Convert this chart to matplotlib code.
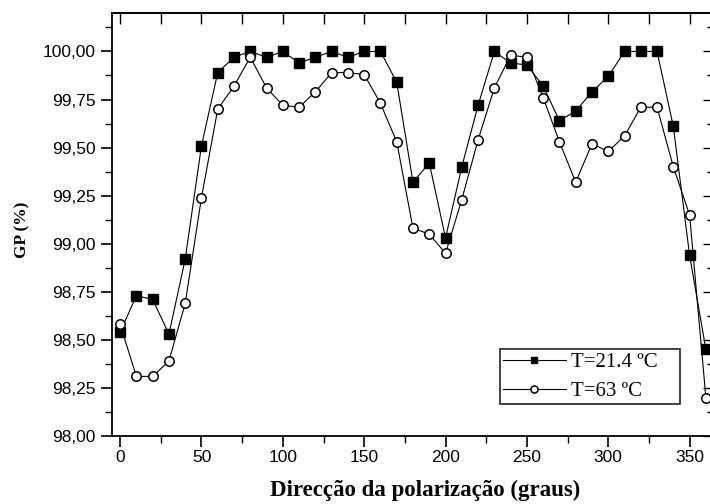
import numpy as np
import matplotlib
matplotlib.use('Agg')
import matplotlib.pyplot as plt
from matplotlib.ticker import MultipleLocator, FuncFormatter

# Dados
angulos = list(range(0, 361, 10))
gp_21 = [98.54, 98.73, 98.71, 98.53, 98.92, 99.51, 99.89, 99.97, 100.00, 99.97,
         100.00, 99.94, 99.97, 100.00, 99.97, 100.00, 100.00, 99.84, 99.32, 99.42,
         99.03, 99.40, 99.72, 100.00, 99.94, 99.93, 99.82, 99.64, 99.69, 99.79,
         99.87, 100.00, 100.00, 100.00, 99.61, 98.94, 98.45]
gp_63 = [98.58, 98.31, 98.31, 98.39, 98.69, 99.24, 99.70, 99.82, 99.97, 99.81,
         99.72, 99.71, 99.79, 99.89, 99.89, 99.88, 99.73, 99.53, 99.08, 99.05,
         98.95, 99.23, 99.54, 99.81, 99.98, 99.97, 99.76, 99.53, 99.32, 99.52,
         99.48, 99.56, 99.71, 99.71, 99.40, 99.15, 98.20]
rotulos = ['T=21.4 ºC', 'T=63 ºC']

fig = plt.figure(figsize=(7.1, 5.04), dpi=100)
ax = fig.add_axes([112/710, 1 - 436/504, 602/710, 423/504])

ax.plot(angulos, gp_21, color='black', lw=0.8, marker='s', ms=6.5,
        mfc='black', mec='black', label=rotulos[0])
ax.plot(angulos, gp_63, color='black', lw=0.8, marker='o', ms=6.8,
        mfc='white', mec='black', mew=1.1, label=rotulos[1])

ax.set_xlim(-5, 365)
ax.set_ylim(98.0, 100.2)

ax.xaxis.set_major_locator(MultipleLocator(50))
ax.xaxis.set_minor_locator(MultipleLocator(25))
ax.yaxis.set_major_locator(MultipleLocator(0.25))
ax.yaxis.set_minor_locator(MultipleLocator(0.125))
ax.yaxis.set_major_formatter(FuncFormatter(lambda v, p: f'{v:.2f}'.replace('.', ',')))

for s in ax.spines.values():
    s.set_linewidth(1.3)

ax.tick_params(which='major', direction='out', length=8, width=1.2,
               labelsize=12.5, labelfontfamily='Liberation Sans')
ax.tick_params(which='minor', direction='out', length=5, width=1.0)
ax.tick_params(axis='x', which='major', pad=2)
ax.tick_params(axis='y', which='major', pad=4)

# eixos de cima e da direita com marcas para dentro
topo = ax.secondary_xaxis('top')
topo.xaxis.set_major_locator(MultipleLocator(50))
topo.xaxis.set_minor_locator(MultipleLocator(25))
topo.tick_params(which='both', direction='in', length=8, width=1.0, labeltop=False)
topo.spines['top'].set_linewidth(1.3)

direita = ax.secondary_yaxis('right')
direita.yaxis.set_major_locator(MultipleLocator(0.25))
direita.yaxis.set_minor_locator(MultipleLocator(0.125))
direita.tick_params(which='major', direction='in', length=8, width=1.0, labelright=False)
direita.tick_params(which='minor', direction='in', length=5, width=1.0)

leg = ax.legend(loc='lower left', bbox_to_anchor=(0.6445, 0.0757, 0.299, 0.168),
                mode='expand', frameon=True, fancybox=False, borderaxespad=0,
                borderpad=0.15, handlelength=3.0, handletextpad=0.25,
                labelspacing=0.45, markerscale=0.75,
                prop={'family': 'Liberation Serif', 'size': 15})
leg.get_frame().set_edgecolor('black')
leg.get_frame().set_linewidth(1.3)

fig.text(425/710, 1 - 490/504, 'Direcção da polarização (graus)',
         ha='center', va='center', family='Liberation Serif',
         fontweight='bold', fontsize=16.5)
fig.text(22/710, 1 - 230/504, 'GP (%)', rotation=90, ha='center', va='center',
         family='Liberation Serif', fontweight='bold', fontsize=12.5)

fig.savefig('out.png', dpi=100)
